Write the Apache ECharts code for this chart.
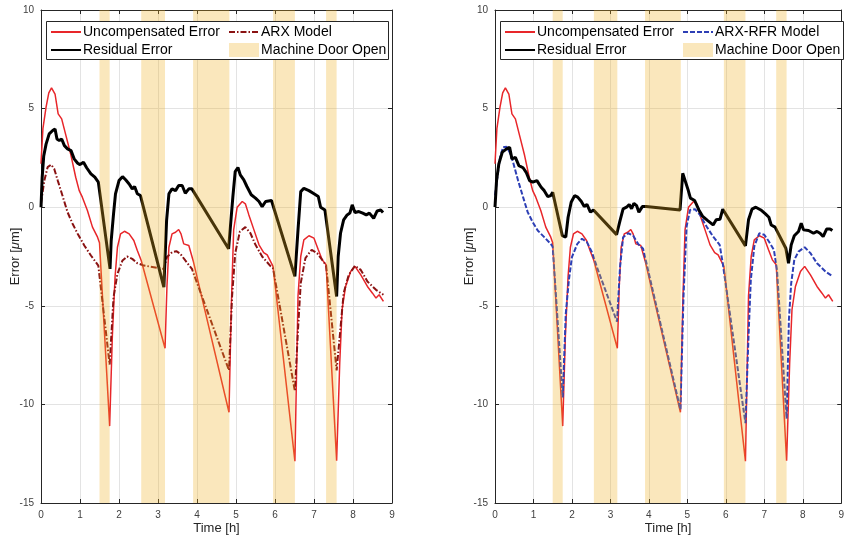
<!DOCTYPE html>
<html>
<head>
<meta charset="utf-8">
<script src="https://cdn.jsdelivr.net/npm/echarts@6/dist/echarts.min.js"></script>
<style>
  html, body { margin: 0; padding: 0; background: #fff; }
  #chart { width: 847px; height: 541px; }
</style>
</head>
<body>
<div id="chart"></div>
<script>
// 门打开的时段 [h]
const doorStart = [1.50, 2.57, 3.90, 5.95, 7.31];
const doorEnd = [1.76, 3.18, 4.83, 6.51, 7.58];

// Uncompensated Error（两张图相同）
const uncompT = [0, 0.05, 0.13, 0.2, 0.27, 0.36, 0.44, 0.53, 0.64, 0.77, 0.89, 0.98, 1.06, 1.19, 1.32, 1.45, 1.5,
  1.76, 1.83, 1.9, 1.96, 2.04, 2.14, 2.26, 2.38, 2.47, 2.57, 3.18, 3.23, 3.28, 3.36, 3.45, 3.53, 3.59, 3.66, 3.79, 3.9,
  4.82, 4.88, 4.94, 5.03, 5.16, 5.24, 5.33, 5.46, 5.59, 5.71, 5.8, 5.95, 6.51, 6.59, 6.66, 6.74, 6.87, 7.0, 7.11, 7.21,
  7.31, 7.58, 7.66, 7.72, 7.81, 7.94, 8.05, 8.2, 8.37, 8.5, 8.59, 8.67, 8.78];
const uncompV = [2.2, 4.0, 5.07, 5.8, 6.05, 5.74, 4.73, 4.48, 3.63, 2.62, 1.52, 0.84, 0.51, -0.17, -1.01, -1.52, -1.8,
  -11.1, -6.5, -3.5, -2.03, -1.35, -1.22, -1.35, -1.69, -2.2, -2.7, -7.15, -4.0, -2.03, -1.35, -1.27, -1.13, -1.35, -1.86, -1.94, -2.7,
  -10.4, -5.0, -1.15, 0.0, 0.29, 0.17, -0.39, -1.15, -1.91, -2.3, -2.42, -3.0, -12.88, -4.5, -2.5, -1.66, -1.45, -1.57, -2.16, -2.67,
  -2.92, -12.85, -7.9, -5.2, -4.02, -3.26, -3.0, -3.43, -4.02, -4.36, -4.61, -4.44, -4.78];

// ARX Model（左图）
const arxT = [0, 0.085, 0.17, 0.26, 0.34, 0.43, 0.55, 0.68, 0.81, 0.94, 1.11, 1.28, 1.47, 1.5, 1.76, 1.86, 1.96, 2.09,
  2.21, 2.34, 2.47, 2.64, 2.89, 3.15, 3.23, 3.36, 3.47, 3.57, 3.7, 3.87, 4.82, 4.9, 4.98, 5.1, 5.24, 5.37, 5.5, 5.67,
  5.89, 5.95, 6.51, 6.59, 6.66, 6.78, 6.94, 7.08, 7.21, 7.31, 7.58, 7.66, 7.76, 7.89, 8.05, 8.2, 8.37, 8.59, 8.78];
const arxV = [0.2, 1.35, 2.03, 2.16, 1.94, 1.35, 0.59, -0.25, -0.84, -1.35, -1.94, -2.45, -2.96, -3.0, -7.98, -4.56, -3.38, -2.7,
  -2.5, -2.62, -2.84, -2.96, -3.04, -3.13, -2.53, -2.28, -2.23, -2.36, -2.7, -3.13, -8.27, -4.5, -2.33, -1.23, -1.01, -1.32, -1.91, -2.5,
  -3.0, -3.1, -9.33, -6.2, -3.85, -2.58, -2.16, -2.33, -2.67, -2.95, -8.27, -6.55, -4.36, -3.43, -2.97, -3.18, -3.77, -4.19, -4.44];

// Residual Error（左图）
const resArxT = [0, 0.03, 0.07, 0.13, 0.21, 0.3, 0.36, 0.41, 0.47, 0.53, 0.6, 0.68, 0.77, 0.85, 0.94, 1.0, 1.09, 1.17,
  1.28, 1.38, 1.47, 1.77, 1.8, 1.86, 1.91, 2.0, 2.09, 2.17, 2.26, 2.34, 2.4, 2.47, 2.55, 3.15, 3.22, 3.28, 3.36, 3.45,
  3.53, 3.62, 3.7, 3.79, 3.87, 4.81, 4.92, 4.98, 5.05, 5.11, 5.2, 5.28, 5.39, 5.5, 5.59, 5.67, 5.76, 5.91, 6.51, 6.59,
  6.66, 6.74, 6.87, 7.0, 7.11, 7.17, 7.28, 7.58, 7.62, 7.68, 7.76, 7.85, 7.92, 7.98, 8.05, 8.15, 8.25, 8.34, 8.42, 8.53,
  8.62, 8.71, 8.77];
const resArxV = [0, 1.5, 2.6, 3.2, 3.72, 3.89, 3.97, 3.46, 3.38, 3.46, 3.12, 2.96, 2.87, 2.45, 2.23, 2.16, 2.28, 2.0,
  1.69, 1.52, 1.27, -3.13, -1.69, -0.34, 0.68, 1.35, 1.55, 1.39, 1.18, 0.93, 1.05, 0.68, 0.59, -4.05, -0.68, 0.68, 0.93, 0.84,
  1.1, 1.1, 0.71, 0.93, 0.93, -2.11, 0.54, 1.81, 2.01, 1.64, 1.39, 1.05, 0.63, 0.46, 0.29, 0.03, 0.29, 0.34, -3.51, -1.15,
  0.79, 0.96, 0.84, 0.68, 0.54, 0.0, -0.14, -4.53, -2.5, -1.32, -0.64, -0.39, -0.3, 0.12, -0.27, -0.22, -0.3, -0.39, -0.3, -0.56,
  -0.19, -0.14, -0.27];

// ARX-RFR Model（右图）
const rfrT = [0, 0.13, 0.21, 0.3, 0.38, 0.47, 0.6, 0.73, 0.85, 0.98, 1.11, 1.28, 1.45, 1.5, 1.76, 1.84, 1.92, 2.0, 2.14,
  2.26, 2.39, 2.52, 2.65, 3.17, 3.25, 3.33, 3.46, 3.59, 3.72, 3.85, 4.82, 4.9, 4.98, 5.07, 5.2, 5.33, 5.5, 5.67, 5.84,
  5.92, 6.51, 6.59, 6.65, 6.74, 6.87, 7.0, 7.12, 7.25, 7.33, 7.58, 7.64, 7.7, 7.78, 7.89, 8.05, 8.2, 8.37, 8.59, 8.78];
const rfrV = [0.6, 2.53, 3.04, 3.07, 2.79, 2.28, 1.35, 0.51, -0.25, -0.76, -1.18, -1.52, -1.86, -2.0, -9.65, -5.4, -3.7, -2.53, -1.86,
  -1.6, -1.77, -2.28, -3.04, -5.8, -3.04, -1.52, -1.32, -1.44, -1.86, -2.11, -10.26, -4.53, -0.98, -0.14, -0.1, -0.39, -0.98, -1.49, -1.91,
  -2.84, -10.95, -6.55, -3.68, -1.99, -1.32, -1.4, -1.74, -2.16, -3.18, -10.72, -5.71, -3.85, -2.67, -2.25, -2.03, -2.33, -2.84, -3.26, -3.51];

// Residual Error（右图）
const resRfrT = [0, 0.04, 0.1, 0.19, 0.3, 0.38, 0.44, 0.53, 0.62, 0.73, 0.81, 0.9, 0.98, 1.09, 1.2, 1.28, 1.37, 1.45,
  1.5, 1.75, 1.84, 1.9, 1.98, 2.07, 2.15, 2.24, 2.32, 2.39, 2.48, 2.56, 3.16, 3.25, 3.33, 3.42, 3.49, 3.55, 3.61, 3.68,
  3.74, 3.83, 3.93, 4.81, 4.88, 4.93, 5.02, 5.08, 5.19, 5.3, 5.4, 5.53, 5.67, 5.75, 5.85, 5.92, 6.51, 6.59, 6.68, 6.78,
  6.91, 7.03, 7.12, 7.18, 7.28, 7.56, 7.63, 7.7, 7.78, 7.89, 7.96, 8.02, 8.15, 8.28, 8.37, 8.45, 8.53, 8.62, 8.71, 8.77];
const resRfrV = [0, 1.35, 2.2, 2.79, 2.96, 3.04, 2.45, 2.53, 2.11, 2.0, 1.77, 1.35, 1.27, 1.35, 1.01, 0.84, 0.54, 0.59,
  0.76, -1.44, -1.52, -0.51, 0.25, 0.59, 0.51, 0.3, 0.03, 0.14, -0.25, -0.14, -1.39, -0.68, -0.08, 0.0, 0.14, -0.08, 0.2, 0.08,
  -0.25, 0.03, 0.03, -0.14, 1.72, 1.69, 0.88, 0.46, 0.34, -0.14, -0.47, -0.68, -0.9, -0.64, -0.61, -0.1, -1.96, -0.64, -0.1, 0.0,
  -0.14, -0.34, -0.51, -0.9, -1.01, -2.08, -2.84, -1.91, -1.45, -1.23, -0.81, -1.15, -1.18, -1.32, -1.23, -1.32, -1.49, -1.11, -1.1, -1.18];

const xTicks = [0, 9, 1];
const yTicks = [-15, 10, 5];

const RED = '#e8262a';
const MAROON = '#8a1212';
const BLUE = '#2d3fb5';
const DOOR = 'rgba(237,177,32,0.3)';
const FONT = 'Liberation Sans';

const chart = echarts.init(document.getElementById('chart'));

function pairs(t, v) {
  return t.map((x, i) => [x, v[i]]);
}

const doorData = doorStart.map((s, i) => [s, doorEnd[i]]);

// 用坐标轴换算门打开的矩形区域
function renderDoor(params, api) {
  const p0 = api.coord([api.value(0), yTicks[1]]);
  const p1 = api.coord([api.value(1), yTicks[0]]);
  return {
    type: 'rect',
    shape: { x: p0[0], y: p0[1], width: p1[0] - p0[0], height: p1[1] - p0[1] },
    style: { fill: DOOR }
  };
}

function lineSeries(name, data, idx, color, width, type) {
  return {
    type: 'line', name: name, data: data,
    xAxisIndex: idx, yAxisIndex: idx,
    symbol: 'none', animation: false, z: 2,
    lineStyle: { color: color, width: width, type: type || 'solid' },
    itemStyle: { color: color }
  };
}

function doorSeries(idx) {
  return {
    type: 'custom', name: 'Machine Door Open', data: doorData,
    xAxisIndex: idx, yAxisIndex: idx, z: 3, animation: false,
    encode: { x: [0, 1] },
    itemStyle: { color: DOOR },
    renderItem: renderDoor
  };
}

const axisCol = '#262626';

function xAxes(gridIndex) {
  return [
    {
      type: 'value', gridIndex: gridIndex, min: xTicks[0], max: xTicks[1], interval: xTicks[2],
      name: 'Time [h]', nameLocation: 'middle', nameGap: 19, nameMoveOverlap: false,
      nameTextStyle: { fontFamily: FONT, fontSize: 13, color: '#262626' },
      axisLine: { show: true, onZero: false, lineStyle: { color: axisCol, width: 1 } },
      axisTick: { inside: true, length: 4, lineStyle: { color: axisCol } },
      axisLabel: { fontFamily: FONT, fontSize: 10, color: '#404040', margin: 7 },
      splitLine: { show: true, lineStyle: { color: '#e3e3e3' } }
    },
    {
      type: 'value', gridIndex: gridIndex, position: 'top', min: xTicks[0], max: xTicks[1], interval: xTicks[2],
      axisLine: { show: true, onZero: false, lineStyle: { color: axisCol, width: 1 } },
      axisTick: { inside: true, length: 4, lineStyle: { color: axisCol } },
      axisLabel: { show: false }, splitLine: { show: false }
    }
  ];
}

function yAxes(gridIndex) {
  return [
    {
      type: 'value', gridIndex: gridIndex, min: yTicks[0], max: yTicks[1], interval: yTicks[2],
      name: 'Error [{i|μ}m]', nameLocation: 'middle', nameGap: 19, nameMoveOverlap: false,
      nameTextStyle: {
        fontFamily: FONT, fontSize: 13, color: '#262626',
        rich: { i: { fontFamily: FONT, fontSize: 13, fontStyle: 'italic', color: '#262626' } }
      },
      axisLine: { show: true, onZero: false, lineStyle: { color: axisCol, width: 1 } },
      axisTick: { inside: true, length: 4, lineStyle: { color: axisCol } },
      axisLabel: { fontFamily: FONT, fontSize: 10, color: '#404040', margin: 7 },
      splitLine: { show: true, lineStyle: { color: '#e3e3e3' } }
    },
    {
      type: 'value', gridIndex: gridIndex, position: 'right', min: yTicks[0], max: yTicks[1], interval: yTicks[2],
      axisLine: { show: true, onZero: false, lineStyle: { color: axisCol, width: 1 } },
      axisTick: { inside: true, length: 4, lineStyle: { color: axisCol } },
      axisLabel: { show: false }, splitLine: { show: false }
    }
  ];
}

// 图例一列（线条图例只画线，不画圆点）
function legendCol(left, names) {
  return {
    orient: 'vertical', left: left, top: 25, itemWidth: 30, itemHeight: 14, itemGap: 4,
    padding: 0, z: 6, selectedMode: false,
    textStyle: { fontFamily: FONT, fontSize: 14, color: '#000', padding: [0, 0, 0, -3] },
    data: names.map(n => n === 'Machine Door Open'
      ? { name: n, icon: 'rect', itemStyle: { color: DOOR } }
      : { name: n, itemStyle: { opacity: 0 } })
  };
}

function legendBox(left, width) {
  return {
    type: 'rect', left: left, top: 21, z: 5,
    shape: { width: width, height: 38 },
    style: { fill: '#fff', stroke: '#262626', lineWidth: 1 }
  };
}

const option = {
  backgroundColor: '#fff',
  animation: false,
  grid: [
    { left: 41, top: 10, width: 351, height: 493 },
    { left: 495, top: 10, width: 351, height: 493 }
  ],
  xAxis: [...xAxes(0), ...xAxes(1)],
  yAxis: [...yAxes(0), ...yAxes(1)],
  legend: [
    legendCol(50, ['Uncompensated Error', 'Residual Error']),
    legendCol(228, ['ARX Model', 'Machine Door Open']),
    legendCol(504, ['Uncompensated Error', 'Residual Error']),
    legendCol(682, ['ARX-RFR Model', 'Machine Door Open'])
  ],
  graphic: [legendBox(46, 342), legendBox(500, 343)],
  series: [
    lineSeries('Uncompensated Error', pairs(uncompT, uncompV), 0, RED, 1.5),
    lineSeries('ARX Model', pairs(arxT, arxV), 0, MAROON, 2, [6, 2, 1.5, 2]),
    lineSeries('Residual Error', pairs(resArxT, resArxV), 0, '#000', 3),
    doorSeries(0),
    lineSeries('Uncompensated Error', pairs(uncompT, uncompV), 2, RED, 1.5),
    lineSeries('ARX-RFR Model', pairs(rfrT, rfrV), 2, BLUE, 2, [5, 2]),
    lineSeries('Residual Error', pairs(resRfrT, resRfrV), 2, '#000', 3),
    doorSeries(2)
  ]
};

chart.setOption(option);
</script>
</body>
</html>
